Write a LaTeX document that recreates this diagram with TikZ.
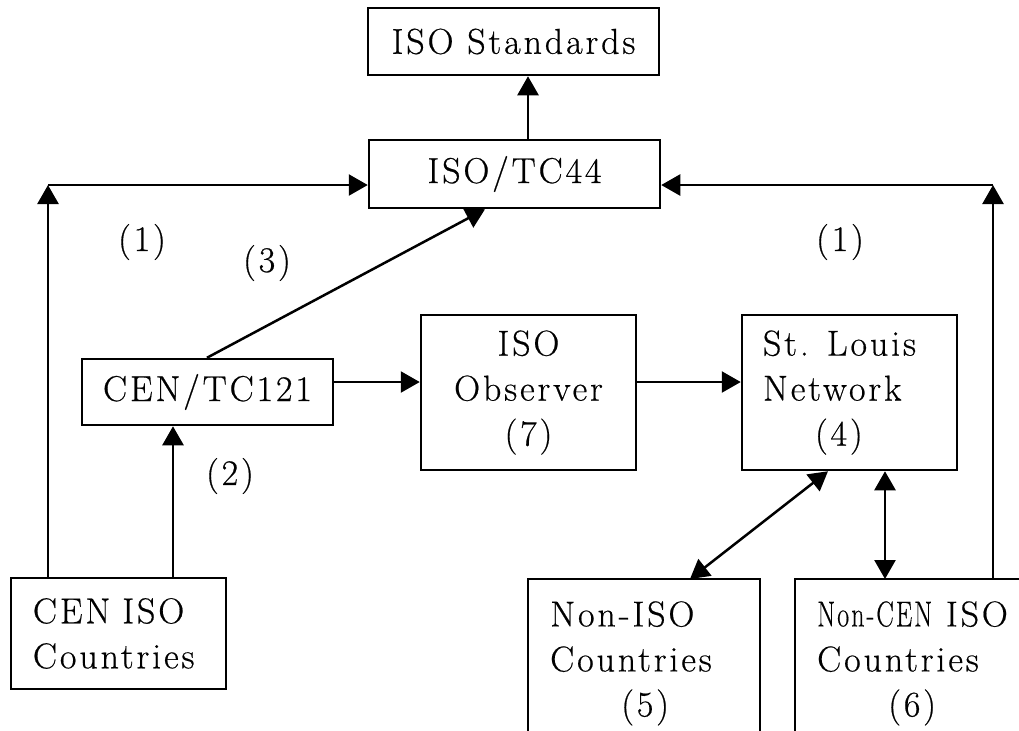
\documentclass[tikz,border=0pt]{standalone}
\usepackage{fontspec}
\setmainfont{Latin Modern Roman}[LetterSpace=8,FakeBold=0.5]
\usetikzlibrary{arrows.meta}
\newcommand{\fsz}{\fontsize{18}{22.5}\selectfont}
\begin{document}
\begin{tikzpicture}[x=0.5pt,y=-0.5pt,line width=1.25pt,
  box/.style={draw,line width=1.25pt,inner sep=0pt,font=\fsz,align=center},
  txt/.style={inner sep=0pt,font=\fsz,align=left},
  lbl/.style={inner sep=0pt,font=\fsz},
  arr/.style={-{Triangle[length=9.5pt,width=10.5pt]}},
  darr/.style={{Triangle[length=9.5pt,width=10.5pt]}-{Triangle[length=9.5pt,width=10.5pt]}}]
\useasboundingbox (0,0) rectangle (1019,730);
% boxes
\node[box,minimum width=145.5pt,minimum height=33.5pt] (std) at (513.5,41.5) {ISO Standards};
\node[box,minimum width=145.5pt,minimum height=34pt] (tc44) at (514.5,174) {ISO/TC44};
\node[box,minimum width=125.5pt,minimum height=33pt] (cen121) at (207.5,392) {CEN/TC121};
\node[box,minimum width=107.5pt,minimum height=77.5pt] (obs) at (528.5,392.5) {ISO\\Observer\\(7)};
\node[box,minimum width=107.5pt,minimum height=77.5pt,text width=86.5pt,inner xsep=10.5pt,align=left] (stl) at (849.5,392.5) {St. Louis\\Network\\\hspace*{26pt}(4)};
\node[box,minimum width=107.5pt,minimum height=55.5pt,text width=85.5pt,inner xsep=11pt,align=left] (ceniso) at (118.5,633.5) {CEN ISO\\Countries};
% open boxes at the bottom
\coordinate (nisoTL) at (528,579);
\coordinate (nisoTR) at (760,579);
\coordinate (ncenTL) at (795,579);
\coordinate (ncenTR) at (1040,579);
\draw (nisoTL |- 0,760) -- (nisoTL) -- (nisoTR) -- (nisoTR |- 0,760);
\draw (ncenTL |- 0,760) -- (ncenTL) -- (ncenTR);
\node[txt,anchor=north west] (noniso) at (549,600) {Non-ISO\\Countries\\\hspace*{35.5pt}(5)};
\node[txt,anchor=north west] (noncen) at (816,600) {\scalebox{0.72}[1]{Non-CEN} ISO\\Countries\\\hspace*{35.5pt}(6)};
\coordinate (nisoIn) at (690,579);
\coordinate (ncenIn) at (885,579);
\coordinate (ncenOut) at (993,579);
% corner points
\coordinate (lc) at (48,185);
\coordinate (rc) at (993,185);
% labels
\node[lbl] (l1a) at (142,242) {(1)};
\node[lbl] (l1b) at (840,242) {(1)};
\node[lbl] (l3) at (267,263) {(3)};
\node[lbl] (l2) at (230,476) {(2)};
% connectors
\draw[arr] ([xshift=6.75pt]tc44.north) -- ([xshift=6.75pt]tc44.north |- std.south);
\draw[arr] (ceniso.north -| lc) -- (lc);
\draw[arr] (lc) -- (lc -| tc44.west);
\draw[arr] (ncenOut) -- (rc);
\draw[arr] (rc) -- (rc -| tc44.east);
\draw[arr] ([xshift=-0.25pt]cen121.north) -- ([xshift=-14.75pt]tc44.south);
\draw[arr] ([xshift=-17.25pt]cen121.south |- ceniso.north) -- ([xshift=-17.25pt]cen121.south);
\draw[arr] ([yshift=5pt]cen121.east) -- ([yshift=5pt]cen121.east -| obs.west);
\draw[arr] ([yshift=5pt]cen121.east -| obs.east) -- ([yshift=5pt]cen121.east -| stl.west);
\draw[darr] ([xshift=-10.75pt]stl.south) -- (nisoIn);
\draw[darr] (stl.south -| ncenIn) -- (ncenIn);
\end{tikzpicture}
\end{document}
